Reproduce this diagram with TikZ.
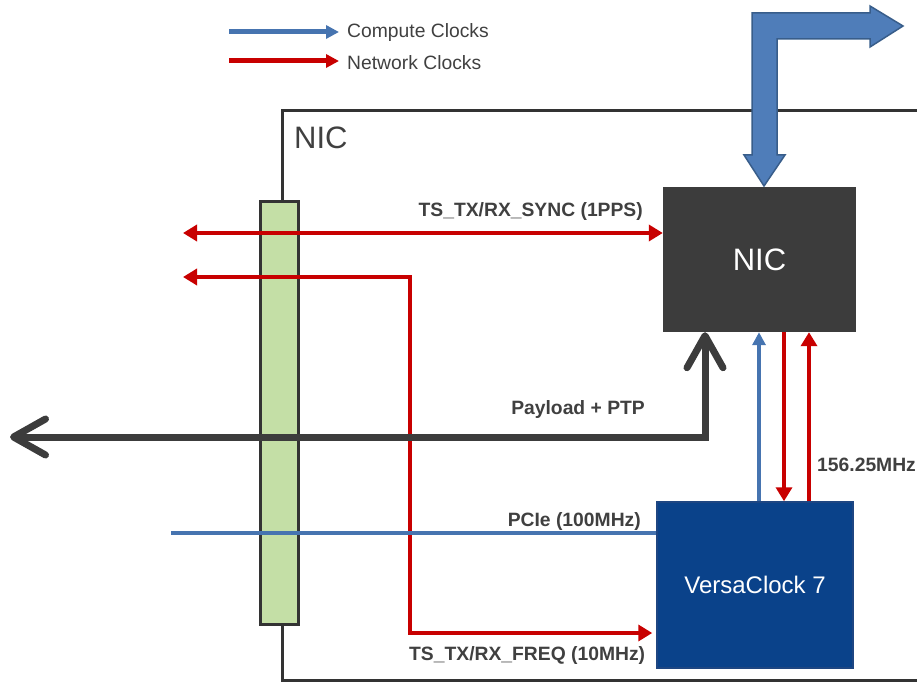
\documentclass[tikz,border=0pt]{standalone}
\usepackage{fontspec}
\setmainfont{Liberation Sans}
\usetikzlibrary{arrows.meta}
\definecolor{framegray}{RGB}{51,51,51}
\definecolor{txtgray}{RGB}{64,64,64}
\definecolor{barfill}{RGB}{196,223,166}
\definecolor{nicfill}{RGB}{60,60,60}
\definecolor{vcfill}{RGB}{10,66,138}
\definecolor{vcedge}{RGB}{30,70,130}
\definecolor{cmpblue}{RGB}{70,116,176}
\definecolor{bigblue}{RGB}{79,125,185}
\definecolor{bigedge}{RGB}{56,93,138}
\definecolor{netred}{RGB}{200,0,0}
\definecolor{paygray}{RGB}{60,60,60}
\begin{document}
\begin{tikzpicture}[x=1pt,y=-1pt,
  border/.style={draw=framegray,line width=3pt},
  lbl/.style={font=\fontsize{19.3}{21}\selectfont\bfseries,text=txtgray,inner sep=0pt},
  legendlbl/.style={font=\fontsize{19.3}{21}\selectfont,text=txtgray,inner sep=0pt,anchor=west},
  tri/.tip={Triangle[length=14pt,width=16pt]},
  smalltri/.tip={Triangle[length=13pt,width=13pt]},
  netclk/.style={draw=netred,line width=4.5pt},
  cmpclk/.style={draw=cmpblue,line width=3.5pt},
  barb/.tip={Straight Barb[length=32pt,width=36pt,round]},
  payload/.style={draw=paygray,line width=7pt,barb-barb}]
\useasboundingbox (0,0) rectangle (917,684);

\coordinate (cmpfrom) at (229,32);
\coordinate (netfrom) at (229,61);
\node[legendlbl] (cmplbl) at (347,33) {Compute Clocks};
\node[legendlbl] (netlbl) at (347,63) {Network Clocks};
\draw[cmpclk,line width=5pt,-smalltri] (cmpfrom) -- (cmpfrom -| 339,0);
\draw[netclk,line width=5pt,-smalltri] (netfrom) -- (netfrom -| 339,0);

\draw[border] (282,202) -- (282,111) -- (925,111);
\draw[border] (282,624) -- (282,680) -- (925,680);
\node[font=\fontsize{31}{31}\selectfont,text=txtgray,anchor=west,inner sep=0pt] (framelbl) at (294,138) {NIC};

\node[draw=framegray,line width=3pt,fill=barfill,minimum width=38pt,minimum height=422pt,inner sep=0pt] (bar) at (279,413) {};
\node[fill=nicfill,minimum width=193pt,minimum height=145pt,text=white,font=\fontsize{31}{31}\selectfont] (nic) at (759.5,259.5) {NIC};
\node[fill=vcfill,draw=vcedge,line width=1.5pt,minimum width=196pt,minimum height=166pt,text=white,font=\fontsize{24}{24}\selectfont] (vc) at (755,585) {VersaClock 7};

\filldraw[fill=bigblue,draw=bigedge,line width=1.5pt]
  (752,155) -- (752,13) -- (870,13) -- (870,6) -- (903,26) -- (870,47) -- (870,39)
  -- (777,39) -- (777,155) -- (785,155) -- (764,186) -- (744,155) -- cycle;

\coordinate (synctip) at (183,233);
\draw[netclk,tri-tri] (synctip) -- (synctip -| nic.west);
\node[lbl,anchor=east] (synclbl) at (643,212) {TS\_TX/RX\_SYNC (1PPS)};

\coordinate (freqtip) at (183,277);
\coordinate (freqbend) at (410,277);
\draw[netclk,tri-tri] (freqtip) -- (freqbend) |- ([xshift=-4pt,yshift=-48pt]vc.west);
\node[lbl,anchor=west] (freqlbl) at (409,656) {TS\_TX/RX\_FREQ (10MHz)};

\coordinate (payend) at (10,437);
\coordinate (paybend) at (705,437);
\draw[payload] (payend) -- (paybend) -- (paybend |- nic.south);
\node[lbl,anchor=east] (paylbl) at (645,410) {Payload + PTP};

\coordinate (pcieend) at (171,533);
\draw[cmpclk] (pcieend) -- ([yshift=52pt]vc.west);
\node[lbl,anchor=east] (pcielbl) at (641,522) {PCIe (100MHz)};

\draw[cmpclk,-smalltri] ([xshift=4pt]vc.north) -- ([xshift=4pt]vc.north |- nic.south);
\draw[netclk,-tri] ([xshift=29pt]vc.north |- nic.south) -- ([xshift=29pt]vc.north);
\draw[netclk,-tri] ([xshift=54pt]vc.north) -- ([xshift=54pt]vc.north |- nic.south);
\node[lbl,anchor=west] (mhzlbl) at (817,465) {156.25MHz};
\end{tikzpicture}
\end{document}
